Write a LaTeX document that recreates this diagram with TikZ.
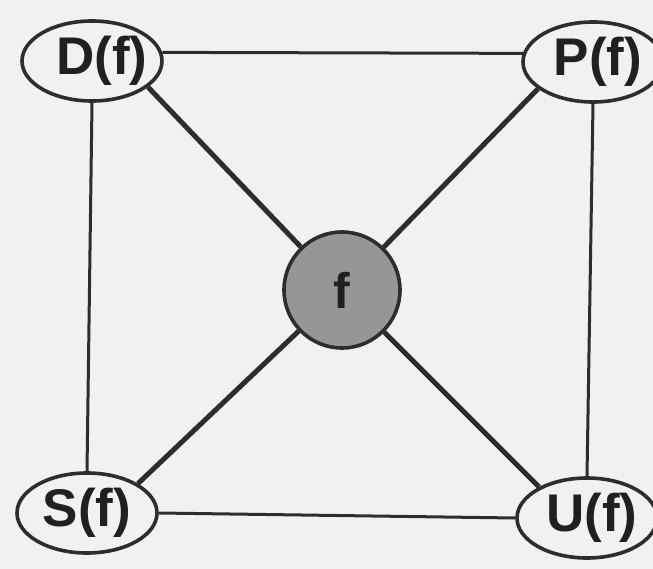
\documentclass[tikz,border=0pt]{standalone}
\usepackage{fontspec}
\setmainfont{Liberation Sans}
\usepackage{xcolor}
\usepackage{tikz}
\usetikzlibrary{shapes.geometric}
\definecolor{pagebg}{RGB}{241,241,239}
\definecolor{inkgray}{RGB}{45,45,45}
\definecolor{fcore}{RGB}{150,150,150}
\tikzset{
  fell/.style={ellipse, draw=inkgray, line width=3.6pt, fill=pagebg, inner sep=0pt, minimum width=140pt, minimum height=80pt, font=\fontsize{53}{53}\selectfont\bfseries, text=inkgray!70!black},
  fcirc/.style={circle, draw=inkgray, line width=3.6pt, fill=fcore, inner sep=0pt, minimum size=116pt, font=\fontsize{50}{50}\selectfont\bfseries, text=inkgray!70!black},
  fedge/.style={draw=inkgray, line width=3pt},
  fspoke/.style={draw=inkgray, line width=5pt}
}
\begin{document}
\begin{tikzpicture}[x=1pt,y=-1pt]
\fill[pagebg] (0,0) rectangle (653,569);
\useasboundingbox (0,0) rectangle (653,569);
\node[fcirc] (f) at (342,290) {f};
\node[fell] (D) at (92,61) {\makebox[0pt]{\hspace{20pt}D(f)}};
\node[fell] (P) at (593,62) {\makebox[0pt]{\hspace{10pt}P(f)}};
\node[fell] (S) at (87,513) {\makebox[0pt]{S(f)}};
\node[fell] (U) at (587,518) {\makebox[0pt]{\hspace{10pt}U(f)}};
\draw[fedge] (D.7)--(P.173); \draw[fedge] (S.east)--(U.west);
\draw[fedge] (D.south)--(S.north); \draw[fedge] (P.south)--(U.north);
\draw[fspoke] (D.-25)--(f); \draw[fspoke] (P.-154)--(f);
\draw[fspoke] (S.30)--(f); \draw[fspoke] (U.147)--(f);
\end{tikzpicture}
\end{document}
